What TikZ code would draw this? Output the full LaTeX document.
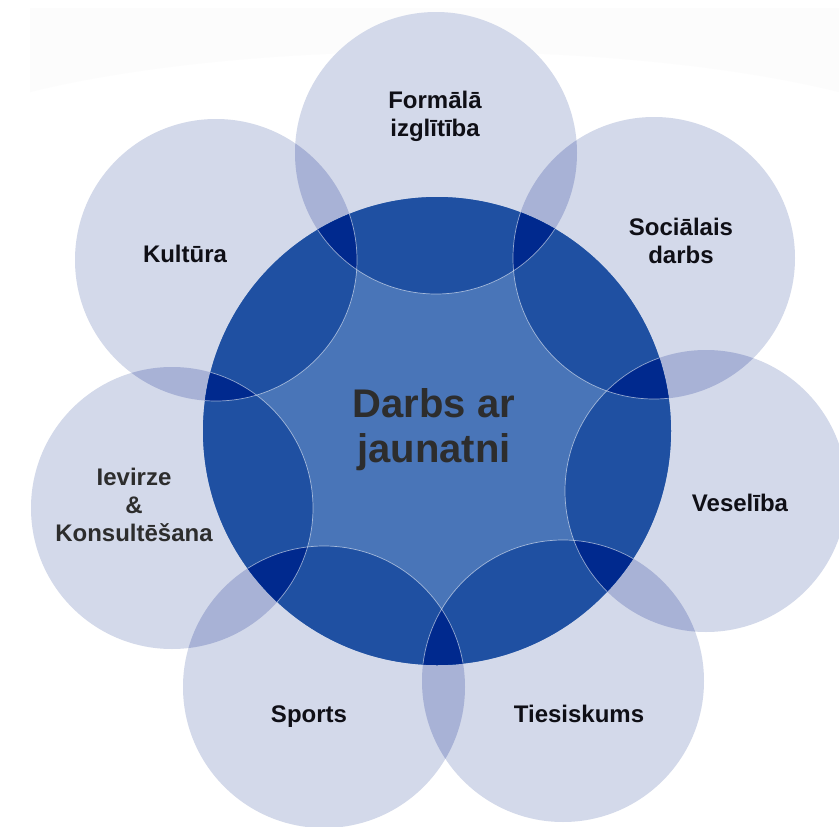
\documentclass[tikz,border=0pt]{standalone}
\usepackage{fontspec}
\setmainfont{Liberation Sans}
\definecolor{lightc}{RGB}{211,217,234}
\definecolor{overc}{RGB}{168,178,214}
\definecolor{centc}{RGB}{73,117,184}
\definecolor{darkc}{RGB}{31,80,162}
\definecolor{deepc}{RGB}{0,41,142}
\definecolor{bandc}{RGB}{252,252,252}
\definecolor{labc}{RGB}{15,15,22}
\definecolor{midtext}{RGB}{45,45,45}
\begin{document}
\begin{tikzpicture}[x=1pt,y=-1pt,
  lbl/.style={font=\bfseries\fontsize{24}{28}\selectfont, text=labc, align=center, inner sep=0pt},
  lblgray/.style={lbl, text=midtext},
  ctr/.style={font=\bfseries\fontsize{40}{45}\selectfont, text=midtext, align=center, inner sep=0pt},
  ring/.style={draw=white, draw opacity=0.55, line width=0.7pt}]
\useasboundingbox (0,0) rectangle (839,827);
\begin{scope}
\clip (0,0) rectangle (839,827);
\fill[white] (0,0) rectangle (839,827);
% faint reflection band at the top
\fill[bandc] (30,8) -- (839,8) -- (839,92) .. controls (620,38) and (250,38) .. (30,92) -- cycle;
\def\rad{141pt}
\def\crad{234pt}
\coordinate (c0) at (437,431);
\coordinate (c1) at (436,153);
\coordinate (c2) at (654,258);
\coordinate (c3) at (706,491);
\coordinate (c4) at (563,681);
\coordinate (c5) at (324,687);
\coordinate (c6) at (172,508);
\coordinate (c7) at (216,260);
% outer circles
\foreach \i in {1,...,7} \fill[lightc] (c\i) circle[radius=\rad];
% overlaps of neighbouring outer circles
\foreach \i/\j in {1/2,2/3,3/4,4/5,5/6,6/7,7/1} {
  \begin{scope}
    \clip (c\i) circle[radius=\rad];
    \fill[overc] (c\j) circle[radius=\rad];
  \end{scope}
}
% centre circle
\fill[centc] (c0) circle[radius=\crad];
\foreach \i in {1,...,7} {
  \begin{scope}
    \clip (c0) circle[radius=\crad];
    \fill[darkc] (c\i) circle[radius=\rad];
  \end{scope}
}
\foreach \i/\j in {1/2,2/3,3/4,4/5,5/6,6/7,7/1} {
  \begin{scope}
    \clip (c0) circle[radius=\crad];
    \clip (c\i) circle[radius=\rad];
    \fill[deepc] (c\j) circle[radius=\rad];
  \end{scope}
}
% light outlines inside the centre circle
\begin{scope}
  \clip (c0) circle[radius=\crad];
  \foreach \i in {1,...,7} \draw[ring] (c\i) circle[radius=\rad];
\end{scope}
% labels
\node[ctr] (tC) at (434,430) {Darbs ar\\jaunatni};
\node[lbl] (tF) at (435,116) {Formālā\\izglītība};
\node[lbl] (tS) at (681,241) {Sociālais\\darbs};
\node[lbl] (tV) at (740,503) {Veselība};
\node[lbl] (tT) at (579,714) {Tiesiskums};
\node[lbl] (tP) at (309,717) {Sports};
\node[lblgray] (tI) at (134,505) {Ievirze\\\&\\Konsultēšana};
\node[lbl] (tK) at (185,254) {Kultūra};
\end{scope}
\end{tikzpicture}
\end{document}
